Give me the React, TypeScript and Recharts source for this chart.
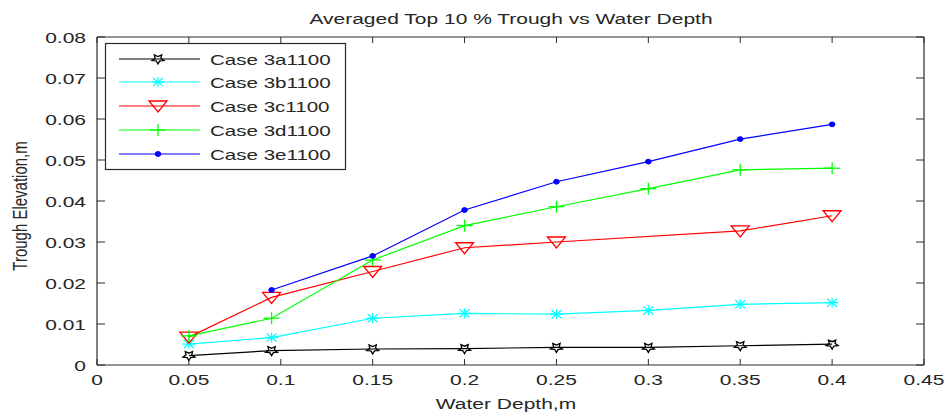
import React from 'react';
import { LineChart, Line, XAxis, YAxis } from 'recharts';

const depths = [0.05, 0.095, 0.15, 0.2, 0.25, 0.3, 0.35, 0.4];
const case3a = [0.0023, 0.0035, 0.0039, 0.004, 0.0043, 0.0043, 0.0047, 0.0051];
const case3b = [0.0051, 0.0067, 0.0114, 0.0126, 0.0124, 0.0133, 0.0148, 0.0152];
const case3c = [0.0068, 0.0165, 0.0228, 0.0286, 0.03, null, 0.0327, 0.0364];
const case3d = [0.0071, 0.0114, 0.0256, 0.034, 0.0386, 0.043, 0.0476, 0.048];
const case3e = [null, 0.0183, 0.0266, 0.0378, 0.0447, 0.0496, 0.0551, 0.0587];

const seriesNames = ['Case 3a1100', 'Case 3b1100', 'Case 3c1100', 'Case 3d1100', 'Case 3e1100'];
const seriesKeys = ['a', 'b', 'c', 'd', 'e'];
const seriesColors = ['#000000', '#00ffff', '#ff0000', '#00ff00', '#0000ff'];
const seriesMarkers = ['star', 'asterisk', 'triangle', 'plus', 'dot'];

const xTicks = [0, 0.05, 0.1, 0.15, 0.2, 0.25, 0.3, 0.35, 0.4, 0.45];
const xTickLabels = ['0', '0.05', '0.1', '0.15', '0.2', '0.25', '0.3', '0.35', '0.4', '0.45'];
const yTicks = [0, 0.01, 0.02, 0.03, 0.04, 0.05, 0.06, 0.07, 0.08];
const yTickLabels = ['0', '0.01', '0.02', '0.03', '0.04', '0.05', '0.06', '0.07', '0.08'];

const title = 'Averaged Top 10 % Trough vs Water Depth';
const xLabel = 'Water Depth,m';
const yLabel = 'Trough Elevation,m';

const data = depths.map((x, i) => ({
  x,
  a: case3a[i],
  b: case3b[i],
  c: case3c[i],
  d: case3d[i],
  e: case3e[i],
}));

const FONT = '"Liberation Sans", Arial, sans-serif';
const SX = 1.4;
const AXIS = '#2b2b2b';
const TEXT = '#262626';

const labelFor = (v: number, ticks: number[], labels: string[]) => {
  let best = 0;
  ticks.forEach((t, i) => {
    if (Math.abs(t - v) < Math.abs(ticks[best] - v)) best = i;
  });
  return labels[best];
};

function Marker({ type, cx, cy, color }: { type: string; cx: number; cy: number; color: string }) {
  if (cx == null || cy == null || isNaN(cx) || isNaN(cy)) return null;
  if (type === 'star') {
    const pts: string[] = [];
    for (let i = 0; i < 10; i++) {
      const r = i % 2 === 0 ? 5 : 2.4;
      const ang = Math.PI / 2 + (i * Math.PI) / 5;
      pts.push(`${cx + r * Math.cos(ang) * 1.25},${cy + r * Math.sin(ang)}`);
    }
    return <polygon points={pts.join(' ')} fill="none" stroke={color} strokeWidth={1.3} />;
  }
  if (type === 'asterisk') {
    return (
      <g stroke={color} strokeWidth={1.2}>
        <line x1={cx - 6.5} y1={cy} x2={cx + 6.5} y2={cy} />
        <line x1={cx} y1={cy - 5} x2={cx} y2={cy + 5} />
        <line x1={cx - 5} y1={cy - 4} x2={cx + 5} y2={cy + 4} />
        <line x1={cx - 5} y1={cy + 4} x2={cx + 5} y2={cy - 4} />
      </g>
    );
  }
  if (type === 'triangle') {
    return (
      <polygon
        points={`${cx - 9},${cy - 5} ${cx + 9},${cy - 5} ${cx},${cy + 6}`}
        fill="none"
        stroke={color}
        strokeWidth={1.3}
      />
    );
  }
  if (type === 'plus') {
    return (
      <g stroke={color} strokeWidth={1.3}>
        <line x1={cx - 8} y1={cy} x2={cx + 8} y2={cy} />
        <line x1={cx} y1={cy - 6} x2={cx} y2={cy + 6} />
      </g>
    );
  }
  return <ellipse cx={cx} cy={cy} rx={2.8} ry={2.4} fill={color} stroke={color} />;
}

function StretchText({ x, y, anchor, size, children, weight }: any) {
  return (
    <g transform={`translate(${x},${y}) scale(${SX},1)`}>
      <text x={0} y={0} textAnchor={anchor} fontSize={size} fontFamily={FONT} fill={TEXT} fontWeight={weight}>
        {children}
      </text>
    </g>
  );
}

function BottomTick(props: any) {
  const { x, y, payload } = props;
  return (
    <g>
      <line x1={x} y1={y} x2={x} y2={y - 6} stroke={AXIS} strokeWidth={1} />
      <StretchText x={x} y={y + 20} anchor="middle" size={15}>
        {labelFor(payload.value, xTicks, xTickLabels)}
      </StretchText>
    </g>
  );
}

function TopTick(props: any) {
  const { x, y } = props;
  return <line x1={x} y1={y} x2={x} y2={y + 6} stroke={AXIS} strokeWidth={1} />;
}

function LeftTick(props: any) {
  const { x, y, payload } = props;
  return (
    <g>
      <line x1={x} y1={y} x2={x + 8} y2={y} stroke={AXIS} strokeWidth={1} />
      <StretchText x={x - 11} y={y + 5.5} anchor="end" size={15}>
        {labelFor(payload.value, yTicks, yTickLabels)}
      </StretchText>
    </g>
  );
}

function RightTick(props: any) {
  const { x, y } = props;
  return <line x1={x} y1={y} x2={x - 8} y2={y} stroke={AXIS} strokeWidth={1} />;
}

function LegendBox() {
  const rowY = [59, 82, 106, 130, 154];
  return (
    <g>
      <rect x={105.5} y={43.5} width={240} height={126} fill="#ffffff" stroke={AXIS} strokeWidth={1.2} />
      {seriesNames.map((name, i) => (
        <g key={name}>
          <line x1={119} y1={rowY[i]} x2={200} y2={rowY[i]} stroke={seriesColors[i]} strokeWidth={1.2} />
          <Marker type={seriesMarkers[i]} cx={158} cy={rowY[i]} color={seriesColors[i]} />
          <g transform={`translate(210,${rowY[i] + 5.5}) scale(1.37,1)`}>
            <text x={0} y={0} fontSize={15} fontFamily={FONT} fill={TEXT}>
              {name}
            </text>
          </g>
        </g>
      ))}
    </g>
  );
}

export default function App() {
  return (
    <div style={{ position: 'absolute', left: 0, top: 0, width: 948, height: 418, background: '#ffffff' }}>
      <LineChart
        width={948}
        height={418}
        data={data}
        margin={{ top: 0, right: 0, bottom: 0, left: 0 }}
        style={{ background: '#ffffff' }}
      >
        <XAxis
          xAxisId="bottom"
          dataKey="x"
          type="number"
          domain={[0, 0.45]}
          ticks={xTicks}
          orientation="bottom"
          height={53}
          axisLine={{ stroke: AXIS, strokeWidth: 1.2 }}
          tickLine={false}
          tickSize={0}
          tickMargin={0}
          tick={<BottomTick />}
          interval={0}
          allowDataOverflow
        />
        <XAxis
          xAxisId="top"
          dataKey="x"
          type="number"
          domain={[0, 0.45]}
          ticks={xTicks}
          orientation="top"
          height={37}
          axisLine={{ stroke: AXIS, strokeWidth: 1.2 }}
          tickLine={false}
          tickSize={0}
          tickMargin={0}
          tick={<TopTick />}
          interval={0}
          allowDataOverflow
        />
        <YAxis
          yAxisId="left"
          type="number"
          domain={[0, 0.08]}
          ticks={yTicks}
          orientation="left"
          width={97}
          axisLine={{ stroke: AXIS, strokeWidth: 1.2 }}
          tickLine={false}
          tickSize={0}
          tickMargin={0}
          tick={<LeftTick />}
          interval={0}
          allowDataOverflow
        />
        <YAxis
          yAxisId="right"
          type="number"
          domain={[0, 0.08]}
          ticks={yTicks}
          orientation="right"
          width={24}
          axisLine={{ stroke: AXIS, strokeWidth: 1.2 }}
          tickLine={false}
          tickSize={0}
          tickMargin={0}
          tick={<RightTick />}
          interval={0}
          allowDataOverflow
        />
        {seriesKeys.map((k, i) => (
          <Line
            key={k}
            xAxisId="bottom"
            yAxisId="left"
            dataKey={k}
            stroke={seriesColors[i]}
            strokeWidth={1.2}
            type="linear"
            connectNulls
            isAnimationActive={false}
            dot={(p: any) => (
              <Marker key={`${k}-${p.index}`} type={seriesMarkers[i]} cx={p.cx} cy={p.cy} color={seriesColors[i]} />
            )}
            activeDot={false}
          />
        ))}
      </LineChart>
      <svg
        width={948}
        height={418}
        style={{ position: 'absolute', left: 0, top: 0, pointerEvents: 'none' }}
      >
        <StretchText x={511} y={24} anchor="middle" size={15}>
          {title}
        </StretchText>
        <StretchText x={506} y={409} anchor="middle" size={15}>
          {xLabel}
        </StretchText>
        <g transform={`translate(27,206) scale(${SX},1) rotate(-90)`}>
          <text x={0} y={0} textAnchor="middle" fontSize={15} fontFamily={FONT} fill={TEXT}>
            {yLabel}
          </text>
        </g>
        <LegendBox />
      </svg>
    </div>
  );
}
